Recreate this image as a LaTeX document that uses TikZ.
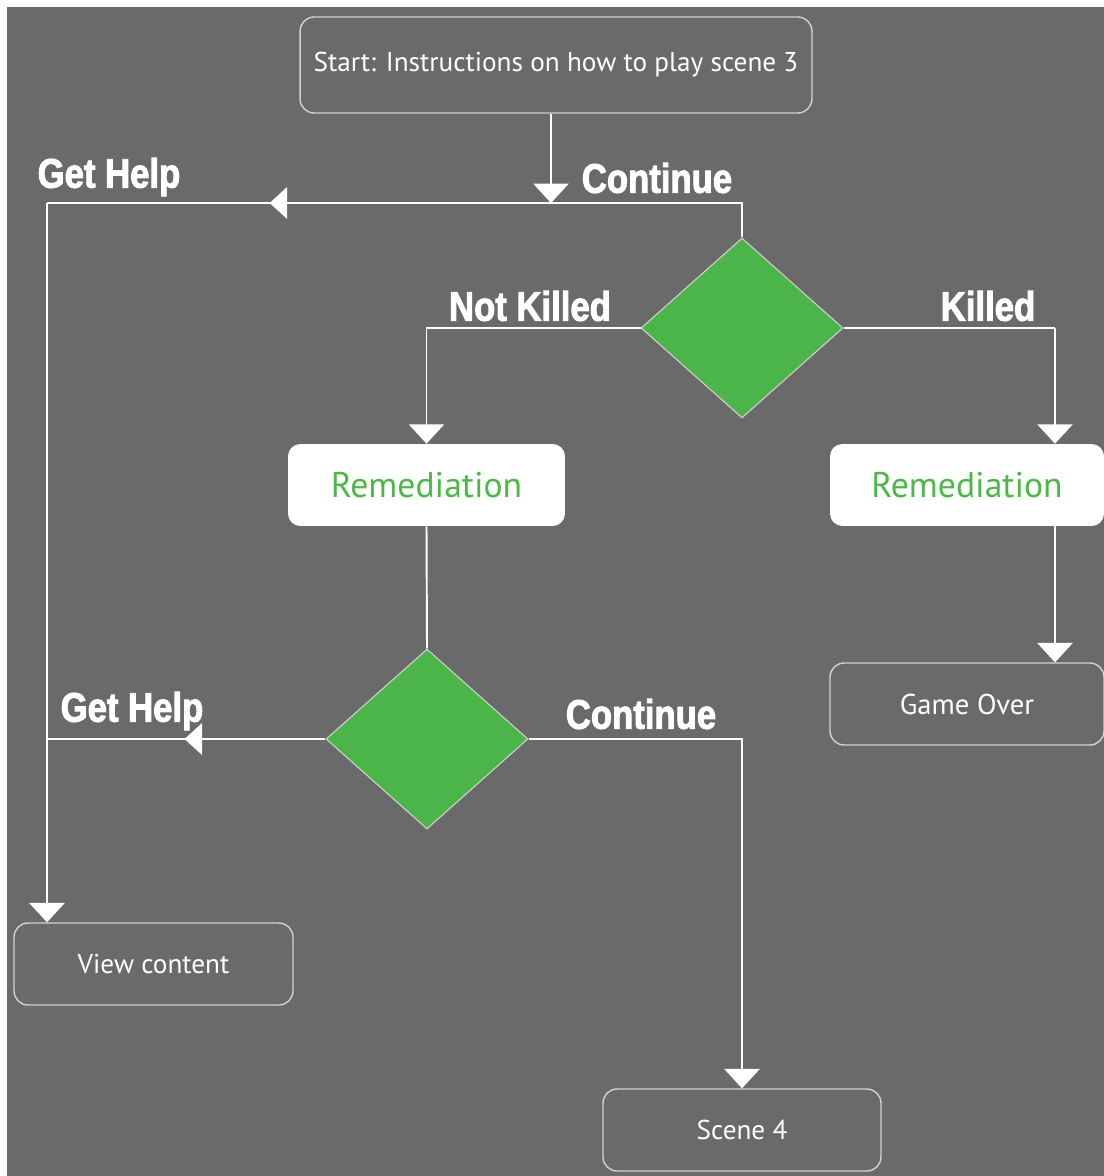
\documentclass[tikz,border=0pt]{standalone}
\usepackage{fontspec}
\setmainfont{PT Sans}
\newfontfamily\tagfont[FakeStretch=0.84,FakeBold=2.2]{Liberation Sans}
\usetikzlibrary{arrows.meta,shapes.geometric,decorations.markings}
\definecolor{slate}{HTML}{696A69}
\definecolor{leaf}{HTML}{4CB54A}
\definecolor{leaftext}{HTML}{4DB848}
\definecolor{rim}{HTML}{D2D2D2}

\begin{document}
\begin{tikzpicture}[x=0.02cm,y=-0.02cm,
    flow/.style={draw=white,line width=1.1pt},
    headdown/.style={-{Triangle[width=20pt,length=11pt]}},
    midhead/.style={postaction={decorate},
      decoration={markings,mark=at position #1 with {\arrow[white]{Triangle[width=18pt,length=10pt]}}}},
    stepbox/.style={rectangle,rounded corners=8pt,draw=rim,line width=0.8pt,text=white,
      font=\fontsize{15.5}{18}\selectfont,minimum height=1.64cm},
    remedbox/.style={rectangle,rounded corners=7pt,fill=white,text=leaftext,
      font=\fontsize{20.3}{23}\selectfont,minimum height=1.64cm},
    choice/.style={diamond,fill=leaf,draw=rim,line width=0.6pt,inner sep=0pt,
      minimum width=4.04cm,minimum height=3.6cm},
    tag/.style={text=white,font=\tagfont\bfseries\fontsize{23.5}{26}\selectfont,inner sep=0pt}]
		%%%%% START %%%%%
		
		\useasboundingbox[fill=white] (0,0) rectangle (1104,1176);
		\fill[slate] (7,7) rectangle (1104,1176);
		
		% boxes
		\node[stepbox,minimum width=10.24cm,minimum height=1.92cm] (start) at (556,65) {Start: Instructions on how to play scene 3};
		\node[choice] (killq) at (742,328) {};
		\node[remedbox,minimum width=5.54cm] (remedA) at (426.5,485) {Remediation};
		\node[remedbox,minimum width=5.48cm] (remedB) at (967,485) {Remediation};
		\node[stepbox,minimum width=5.48cm,font=\fontsize{16.3}{19}\selectfont] (over) at (967,704) {Game Over};
		\node[choice] (helpq) at (427,739) {};
		\node[stepbox,minimum width=5.58cm] (view) at (153.5,964) {View content};
		\node[stepbox,minimum width=5.56cm] (scene) at (742,1130) {Scene 4};
		
		% labels
		\node[tag] (helpA) at (109,177) {Get Help};
		\node[tag] (goA) at (657,178) {Continue};
		\node[tag] (notkilled) at (530,306) {Not Killed};
		\node[tag] (killed) at (988,306) {Killed};
		\node[tag] (helpB) at (132,711) {Get Help};
		\node[tag] (goB) at (641,714) {Continue};
		
		% bends
		\coordinate (cornerA) at (47,203);
		\coordinate (cornerB) at (47,739);
		\coordinate (killx) at (1055,328);
		
		% connectors
		\draw[flow,midhead=10.14cm] (killq.north) |- (cornerA);
		\draw[flow,headdown] (cornerA) -- (view.north -| cornerA);
		\draw[flow,headdown] (start.south -| 551,0) -- (551,203);
		\draw[flow,headdown] (killq.west) -| (remedA.north);
		\draw[flow] (killq.east) -- (killx);
		\draw[flow,headdown] (killx) -- (killx |- remedB.north);
		\draw[flow,headdown] (killx |- remedB.south) -- (killx |- over.north);
		\draw[flow] (remedA.south) -- (helpq.north);
		\draw[flow,midhead=2.82cm] (helpq.west) -- (cornerB);
		\draw[flow,headdown] (helpq.east) -| (scene.north);
		
		%%%%% END %%%%%
	\end{tikzpicture}
\end{document}
